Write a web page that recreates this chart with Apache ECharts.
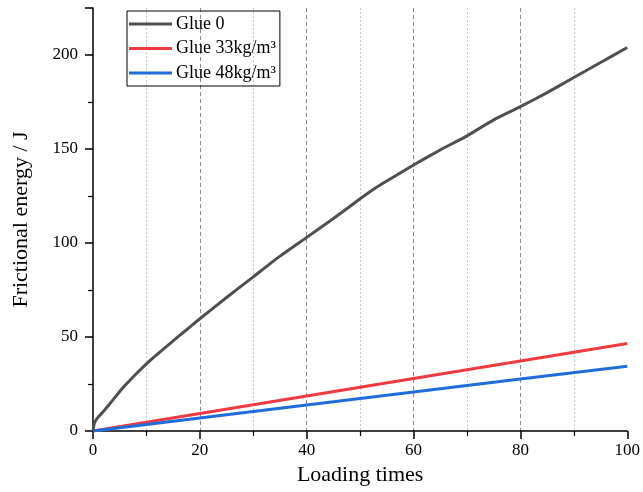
<!DOCTYPE html>
<html>
<head>
<meta charset="utf-8">
<script src="https://cdn.jsdelivr.net/npm/echarts@6/dist/echarts.min.js"></script>
<style>
  html, body { margin: 0; padding: 0; background: #fff; }
  #chart { width: 643px; height: 492px; }
</style>
</head>
<body>
<div id="chart"></div>
<script>
// Loading times (x) and frictional energy (J) for each glue content
const seriesNames = ['Glue 0', 'Glue 33kg/m³', 'Glue 48kg/m³'];

const glue0Times  = [0, 0.3, 1, 2, 3, 4, 5, 6, 7, 8, 9, 10, 12, 14, 16, 18, 20, 25, 30, 35, 40, 45, 50, 53, 55, 60, 65, 70, 75, 80, 85, 90, 95, 100];
const glue0Energy = [0, 4.5, 7.5, 10.5, 14, 17.5, 21, 24.3, 27.3, 30.2, 33, 35.7, 40.7, 45.5, 50.3, 55, 59.7, 71, 82, 93, 103, 113, 123.5, 129.5, 133, 141.5, 149.5, 157, 165.5, 172.5, 180, 188, 196, 204];

const glue33Times  = [0, 20, 40, 60, 80, 100];
const glue33Energy = [0, 9.3, 18.6, 27.9, 37.2, 46.5];

const glue48Times  = [0, 20, 40, 60, 80, 100];
const glue48Energy = [0, 6.9, 13.8, 20.7, 27.6, 34.5];

const xTickValues = [0, 20, 40, 60, 80, 100];
const yTickValues = [0, 50, 100, 150, 200];

const colors = ['#505050', '#ef3a3f', '#1f6ddb'];
const serif = '"Liberation Serif", "Times New Roman", serif';

const pair = (xs, ys) => xs.map((x, i) => [x, ys[i]]);

const chart = echarts.init(document.getElementById('chart'), null, { renderer: 'canvas' });

chart.setOption({
  animation: false,
  backgroundColor: '#fff',
  color: colors,
  grid: { left: 93, right: 14, top: 8, bottom: 61, containLabel: false },
  legend: {
    orient: 'vertical',
    left: 127,
    top: 11,
    padding: [4, 4, 4, 2],
    itemGap: 6.5,
    itemWidth: 43,
    itemHeight: 3,
    icon: 'rect',
    borderColor: '#000',
    borderWidth: 1,
    borderRadius: 0,
    textStyle: { fontFamily: serif, fontSize: 18, color: '#000', padding: [0, 0, 0, -1] },
    data: seriesNames
  },
  xAxis: {
    type: 'value',
    min: 0,
    max: 100,
    interval: 20,
    name: 'Loading times',
    nameLocation: 'middle',
    nameGap: 29,
    nameTextStyle: { fontFamily: serif, fontSize: 22, color: '#000' },
    axisLine: { show: true, onZero: false, lineStyle: { color: '#000', width: 1.5 } },
    axisTick: { show: true, inside: false, length: 8, lineStyle: { color: '#000', width: 1.5 } },
    minorTick: { show: true, splitNumber: 2, length: 5, lineStyle: { color: '#000', width: 1.2 } },
    axisLabel: {
      fontFamily: serif, fontSize: 17, color: '#000', margin: 11,
      formatter: (v) => (xTickValues.indexOf(v) >= 0 ? String(v) : '')
    },
    splitLine: {
      show: true, showMinLine: false, showMaxLine: false,
      lineStyle: { color: '#8c8c8c', type: [4, 3], width: 1 }
    },
    minorSplitLine: {
      show: true,
      lineStyle: { color: '#c8c8c8', type: [2, 2], width: 1 }
    }
  },
  yAxis: {
    type: 'value',
    min: 0,
    max: 225,
    interval: 50,
    name: 'Frictional energy / J',
    nameLocation: 'middle',
    nameGap: 61,
    nameTextStyle: { fontFamily: serif, fontSize: 22, color: '#000' },
    axisLine: { show: true, onZero: false, lineStyle: { color: '#000', width: 1.5 } },
    axisTick: { show: true, inside: false, length: 8, lineStyle: { color: '#000', width: 1.5 } },
    minorTick: { show: true, splitNumber: 2, length: 5, lineStyle: { color: '#000', width: 1.2 } },
    axisLabel: {
      fontFamily: serif, fontSize: 17, color: '#000', margin: 15,
      showMaxLabel: false,
      formatter: (v) => (yTickValues.indexOf(v) >= 0 ? String(v) : '')
    },
    splitLine: { show: false }
  },
  series: [
    {
      name: seriesNames[0], type: 'line', symbol: 'none', smooth: 0.2,
      lineStyle: { width: 3, color: colors[0] }, itemStyle: { color: colors[0] },
      data: pair(glue0Times, glue0Energy), z: 3
    },
    {
      name: seriesNames[1], type: 'line', symbol: 'none',
      lineStyle: { width: 3, color: colors[1] }, itemStyle: { color: colors[1] },
      data: pair(glue33Times, glue33Energy), z: 2
    },
    {
      name: seriesNames[2], type: 'line', symbol: 'none',
      lineStyle: { width: 3, color: colors[2] }, itemStyle: { color: colors[2] },
      data: pair(glue48Times, glue48Energy), z: 2
    }
  ]
});
</script>
</body>
</html>
